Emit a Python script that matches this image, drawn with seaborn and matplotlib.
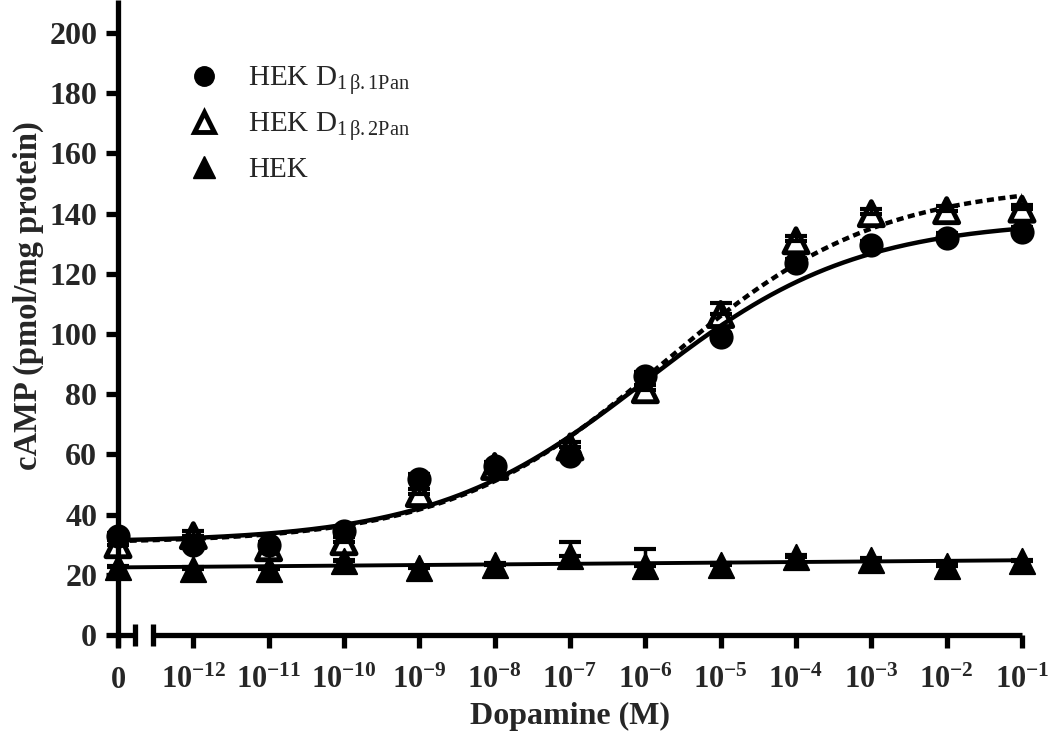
import numpy as np
import pandas as pd
import matplotlib
matplotlib.use("Agg")
import matplotlib.pyplot as plt
from matplotlib.lines import Line2D
import seaborn as sns

# ---------------- data ----------------
conc = [0, 1e-12, 1e-11, 1e-10, 1e-9, 1e-8, 1e-7, 1e-6, 1e-5, 1e-4, 1e-3, 1e-2, 1e-1]
tick_labels = ["0", r"$\mathbf{10^{-12}}$", r"$\mathbf{10^{-11}}$", r"$\mathbf{10^{-10}}$",
               r"$\mathbf{10^{-9}}$", r"$\mathbf{10^{-8}}$", r"$\mathbf{10^{-7}}$",
               r"$\mathbf{10^{-6}}$", r"$\mathbf{10^{-5}}$", r"$\mathbf{10^{-4}}$",
               r"$\mathbf{10^{-3}}$", r"$\mathbf{10^{-2}}$", r"$\mathbf{10^{-1}}$"]
d1b1 = [33, 30, 30, 34.5, 52, 56, 59.5, 86, 99, 123.5, 129.5, 132, 134]
d1b1_err = [1, 1, 1, 1, 1.5, 1, 1, 1.5, 1.5, 1.5, 1.5, 1.5, 1.5]
d1b2 = [30, 33, 29, 31, 47, 56, 62.5, 81.5, 106.5, 131, 140, 141, 141.5]
d1b2_err = [1.5, 1.5, 1.5, 1.5, 1.5, 1.5, 1.5, 1.5, 3.8, 1.5, 1.5, 1.5, 1.5]
hek = [22.5, 22, 21.8, 24.5, 22.3, 23.3, 26.3, 23, 23.3, 26, 25, 23, 24.5]
hek_err = [0.5, 0.5, 0.5, 0.5, 0.5, 0.5, 4.7, 5.6, 0.5, 0.5, 0.5, 0.5, 0.5]
y_ticks = [0, 20, 40, 60, 80, 100, 120, 140, 160, 180, 200]

# sigmoidal fit parameters (bottom, top, logEC50, hill)
fit_b1 = (30.8, 138.0, -6.0, 0.31)
fit_b2 = (30.5, 150.0, -5.77, 0.305)
zero_pos = -13  # axis position used for the "0" concentration

# ---------------- style ----------------
sns.set_style("white")
plt.rcParams["font.family"] = ["Liberation Serif", "DejaVu Serif"]
plt.rcParams["mathtext.fontset"] = "custom"
plt.rcParams["mathtext.rm"] = "Liberation Serif"
plt.rcParams["mathtext.bf"] = "Liberation Serif:bold"
plt.rcParams["mathtext.it"] = "Liberation Serif:italic"

x = np.array([zero_pos if c == 0 else np.log10(c) for c in conc])

fig = plt.figure(figsize=(10.5, 7.34), dpi=100)
ax = fig.add_axes([118 / 1050, 1 - 635 / 734, (1022 - 118) / 1050, 635 / 734])

def logistic(xx, p):
    b, t, ec, h = p
    return b + (t - b) / (1 + 10 ** ((ec - xx) * h))

xs = np.linspace(zero_pos, -1, 300)
c1 = pd.DataFrame({"x": xs, "y": logistic(xs, fit_b1)})
c2 = pd.DataFrame({"x": xs, "y": logistic(xs, fit_b2)})
sns.lineplot(data=c1, x="x", y="y", color="black", lw=3.2, ax=ax, legend=False, clip_on=False)
sns.lineplot(data=c2, x="x", y="y", color="black", lw=3.2, ax=ax, legend=False, clip_on=False,
             linestyle=(0, (1.6, 1.0)))

coef = np.polyfit(x, hek, 1)
hek_line = pd.DataFrame({"x": xs, "y": np.polyval(coef, xs)})
sns.lineplot(data=hek_line, x="x", y="y", color="black", lw=2.8, ax=ax, legend=False, clip_on=False)

# error bars (upper only)
for yv, ev in [(d1b1, d1b1_err), (d1b2, d1b2_err), (hek, hek_err)]:
    ax.errorbar(x, yv, yerr=[np.zeros(len(ev)), ev], fmt="none", ecolor="black",
                elinewidth=2.5, capsize=8, capthick=3, clip_on=False, zorder=3)

pts = pd.DataFrame({"x": x, "b1": d1b1, "b2": d1b2, "hek": hek})
sns.scatterplot(data=pts, x="x", y="hek", marker="^", s=330, color="black", edgecolor="black",
                ax=ax, zorder=4, clip_on=False, legend=False)
sns.scatterplot(data=pts, x="x", y="b1", marker="o", s=260, color="black", edgecolor="black",
                ax=ax, zorder=5, clip_on=False, legend=False)
sns.scatterplot(data=pts, x="x", y="b2", marker="^", s=300, facecolor="none", edgecolor="black",
                linewidth=3.5, ax=ax, zorder=6, clip_on=False, legend=False)

# ---------------- axes ----------------
ax.set_xlim(zero_pos, -1)
ax.set_ylim(0, 211)
for s in ax.spines.values():
    s.set_visible(False)
axlw = 3.8
ax.plot([zero_pos, zero_pos], [-4, 211], color="black", lw=axlw, clip_on=False, solid_capstyle="butt")
ax.plot([zero_pos, -12.77], [0, 0], color="black", lw=axlw, clip_on=False, solid_capstyle="butt")
ax.plot([-12.53, -1], [0, 0], color="black", lw=axlw, clip_on=False, solid_capstyle="butt")
for bx in (-12.77, -12.53):
    ax.plot([bx, bx], [-3.5, 3.5], color="black", lw=3.8, clip_on=False, solid_capstyle="butt")

ax.set_xticks(x)
ax.set_xticklabels(tick_labels)
ax.set_yticks(y_ticks)
ax.set_yticklabels([str(v) for v in y_ticks])
ax.tick_params(axis="both", direction="out", length=9, width=3.8, color="black",
               labelsize=23, pad=6, bottom=True, left=True)
ax.tick_params(axis="x", pad=13, labelsize=22)
for lab in ax.get_xticklabels() + ax.get_yticklabels():
    lab.set_fontweight("bold")
ax.grid(False)

ax.set_xlabel("Dopamine (M)", fontsize=23, fontweight="bold")
ax.xaxis.set_label_coords(0.5, -0.106)
ax.set_ylabel("cAMP (pmol/mg protein)", fontsize=23.5, fontweight="bold")
ax.yaxis.set_label_coords(-0.082, 0.535)

handles = [
    Line2D([], [], marker="o", ls="none", color="black", markersize=14),
    Line2D([], [], marker="^", ls="none", markerfacecolor="none", markeredgecolor="black",
           markeredgewidth=3.5, markersize=15),
    Line2D([], [], marker="^", ls="none", color="black", markersize=16),
]
labels = [r"HEK D$_{\mathregular{1\,\beta.1Pan}}$", r"HEK D$_{\mathregular{1\,\beta.2Pan}}$", "HEK"]
ax.legend(handles, labels, loc="upper left", bbox_to_anchor=(0.05, 0.94), frameon=False,
          fontsize=21, handlelength=1.0, handletextpad=1.0, labelspacing=0.45)

fig.savefig("out.png", dpi=100, facecolor="white")
